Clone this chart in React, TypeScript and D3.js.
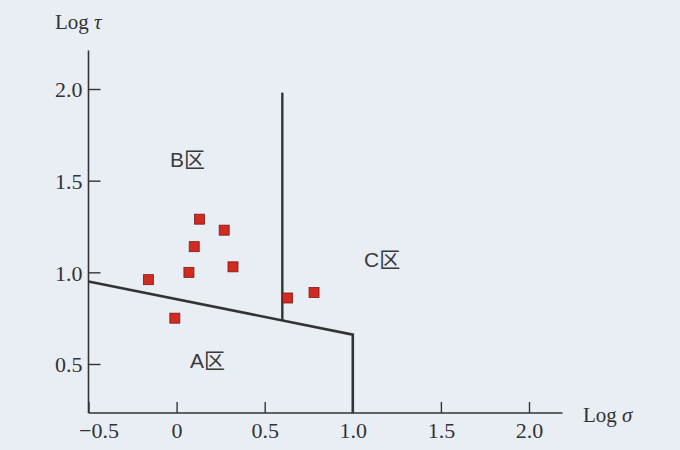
import { useRef, useEffect } from 'react';
import * as d3 from 'd3';

// pontos medidos (log sigma, log tau)
const logSigma = [0.13, 0.27, 0.1, 0.32, 0.07, -0.16, -0.01, 0.63, 0.78];
const logTau = [1.29, 1.23, 1.14, 1.03, 1.0, 0.96, 0.75, 0.86, 0.89];

// linhas de divisao das zonas
const boundaryX = [-0.5, 1.0, 1.0];
const boundaryY = [0.95, 0.66, 0.233];
const dividerX = [0.6, 0.6];
const dividerY = [1.98, 0.735];

const xTicks = [-0.5, 0, 0.5, 1.0, 1.5, 2.0];
const yTicks = [0.5, 1.0, 1.5, 2.0];
const xTickLabels = ['\u22120.5', '0', '0.5', '1.0', '1.5', '2.0'];
const yTickLabels = ['0.5', '1.0', '1.5', '2.0'];

const zoneNames = ['A区', 'B区', 'C区'];
const zoneX = [0.076, -0.037, 1.064];
const zoneY = [0.478, 1.575, 1.03];

const W = 680;
const H = 450;

const App = () => {
  const svgRef = useRef(null);

  useEffect(() => {
    const svg = d3.select(svgRef.current);
    svg.selectAll('*').remove();

    const x = d3.scaleLinear().domain([-0.5, 2.0]).range([88.5, 529]);
    const y = d3.scaleLinear().domain([0.5, 2.0]).range([364, 89]);

    const ink = '#333';
    const serif = "'Liberation Serif', 'DejaVu Serif', serif";

    svg.append('rect').attr('width', W).attr('height', H).attr('fill', '#e9eef4');

    const xMax = 2.19;
    const yMin = 0.233;
    const yMax = 2.21;

    // eixo x (ticks para dentro)
    const xAxis = d3.axisBottom(x)
      .tickValues(xTicks)
      .tickSize(-11)
      .tickSizeOuter(0)
      .tickFormat((d, i) => xTickLabels[i]);
    const gx = svg.append('g')
      .attr('transform', `translate(0,${y(yMin)})`)
      .call(xAxis);
    gx.select('.domain')
      .attr('d', `M${x(-0.5)},0H${x(xMax)}`)
      .attr('stroke', ink)
      .attr('stroke-width', 1.6);
    gx.selectAll('.tick line').attr('stroke', ink).attr('stroke-width', 1.4);
    gx.selectAll('text')
      .attr('fill', ink)
      .attr('y', 25)
      .attr('dy', 0)
      .attr('x', (d, i) => (i === 0 ? 10 : 0))
      .style('font-family', serif)
      .style('font-size', '22px');

    // eixo y
    const yAxis = d3.axisLeft(y)
      .tickValues(yTicks)
      .tickSize(-12)
      .tickSizeOuter(0)
      .tickFormat((d, i) => yTickLabels[i]);
    const gy = svg.append('g')
      .attr('transform', `translate(${x(-0.5)},0)`)
      .call(yAxis);
    gy.select('.domain')
      .attr('d', `M0,${y(yMax)}V${y(yMin)}`)
      .attr('stroke', ink)
      .attr('stroke-width', 1.6);
    gy.selectAll('.tick line').attr('stroke', ink).attr('stroke-width', 1.4);
    gy.selectAll('text')
      .attr('fill', ink)
      .attr('x', -6)
      .attr('dy', '0.35em')
      .style('font-family', serif)
      .style('font-size', '22px');

    // titulos dos eixos
    svg.append('text')
      .attr('x', 55).attr('y', 29)
      .attr('fill', ink)
      .style('font-family', serif)
      .style('font-size', '21px')
      .text('Log ')
      .append('tspan').style('font-style', 'italic').text('τ');
    svg.append('text')
      .attr('x', 583).attr('y', 422)
      .attr('fill', ink)
      .style('font-family', serif)
      .style('font-size', '21px')
      .text('Log ')
      .append('tspan').style('font-style', 'italic').text('σ');

    // linhas de fronteira
    const line = d3.line().x((d) => x(d[0])).y((d) => y(d[1]));
    svg.append('path')
      .datum(boundaryX.map((v, i) => [v, boundaryY[i]]))
      .attr('d', line)
      .attr('fill', 'none')
      .attr('stroke', ink)
      .attr('stroke-width', 2.6)
      .attr('stroke-linejoin', 'miter');
    svg.append('path')
      .datum(dividerX.map((v, i) => [v, dividerY[i]]))
      .attr('d', line)
      .attr('fill', 'none')
      .attr('stroke', ink)
      .attr('stroke-width', 2.4);

    // pontos quadrados
    const s = 10;
    svg.selectAll('.pt')
      .data(logSigma.map((v, i) => ({ sx: v, ty: logTau[i] })))
      .join('rect')
      .attr('class', 'pt')
      .attr('x', (d) => x(d.sx) - s / 2)
      .attr('y', (d) => y(d.ty) - s / 2)
      .attr('width', s)
      .attr('height', s)
      .attr('fill', '#d12a20')
      .attr('stroke', '#7a1a14')
      .attr('stroke-width', 0.8);

    // nomes das zonas
    svg.selectAll('.zone')
      .data(zoneNames)
      .join('text')
      .attr('class', 'zone')
      .attr('x', (d, i) => x(zoneX[i]))
      .attr('y', (d, i) => y(zoneY[i]))
      .attr('fill', '#3a3a3a')
      .style('font-family', "'Liberation Sans', 'Noto Sans CJK SC', sans-serif")
      .style('font-size', '21px')
      .text((d) => d);
  }, []);

  return (
    <svg
      ref={svgRef}
      width={W}
      height={H}
      style={{ position: 'absolute', left: 0, top: 0, display: 'block' }}
    ></svg>
  );
};

export default App;
